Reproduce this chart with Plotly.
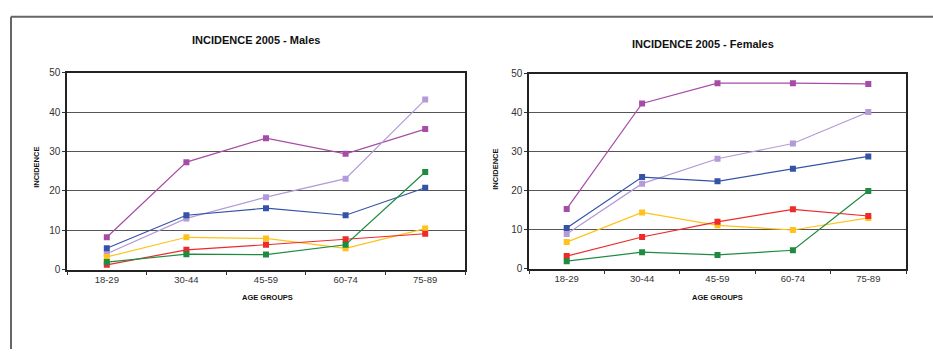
import plotly.graph_objects as go

W, H = 933, 355

age_groups = ["18-29", "30-44", "45-59", "60-74", "75-89"]

series_names = ["S1", "S2", "S3", "S4", "S5", "S6"]
series_colors = ["#A64CA6", "#B39AD8", "#3553A6", "#FFC21A", "#EE2A2A", "#1E8C40"]

males_s1 = [8.2, 27.3, 33.4, 29.4, 35.7]
males_s2 = [4.0, 13.0, 18.4, 23.1, 43.2]
males_s3 = [5.4, 13.8, 15.6, 13.8, 20.8]
males_s4 = [3.2, 8.2, 7.9, 5.4, 10.4]
males_s5 = [1.2, 5.0, 6.3, 7.7, 9.1]
males_s6 = [1.9, 3.9, 3.8, 6.3, 24.8]

females_s1 = [15.3, 42.4, 47.6, 47.6, 47.4]
females_s2 = [8.9, 21.8, 28.2, 32.1, 40.2]
females_s3 = [10.4, 23.5, 22.4, 25.6, 28.8]
females_s4 = [6.8, 14.4, 11.1, 9.9, 13.0]
females_s5 = [3.2, 8.1, 12.0, 15.2, 13.5]
females_s6 = [1.9, 4.2, 3.5, 4.7, 19.9]

y_ticks = [0, 10, 20, 30, 40, 50]

males = [males_s1, males_s2, males_s3, males_s4, males_s5, males_s6]
females = [females_s1, females_s2, females_s3, females_s4, females_s5, females_s6]

FONT = "Liberation Sans, Arial, sans-serif"

def px(x):
    return x / W

def py(y):
    return 1 - y / H

fig = go.Figure()

for name, color, vals in zip(series_names, series_colors, males):
    fig.add_trace(go.Scatter(x=age_groups, y=vals, mode="lines+markers", name=name,
                             line=dict(color=color, width=1.2),
                             marker=dict(symbol="square", size=6, color=color),
                             xaxis="x", yaxis="y", showlegend=False))
for name, color, vals in zip(series_names, series_colors, females):
    fig.add_trace(go.Scatter(x=age_groups, y=vals, mode="lines+markers", name=name,
                             line=dict(color=color, width=1.2),
                             marker=dict(symbol="square", size=6, color=color),
                             xaxis="x2", yaxis="y2", showlegend=False))

xcommon = dict(type="category", range=[-0.5, 4.5], tickson="boundaries",
               ticks="outside", ticklen=4, tickcolor="#333", tickwidth=1,
               showline=True, linecolor="#222", linewidth=1.5, mirror=True,
               showgrid=False, zeroline=False,
               tickfont=dict(family=FONT, size=9.5, color="#333"))
ycommon = dict(range=[0, 50], tickvals=y_ticks, ticks="outside", ticklen=3,
               tickcolor="#333", showline=True, linecolor="#222", linewidth=1.5,
               mirror=True, showgrid=True, gridcolor="#555", gridwidth=1.4,
               zeroline=False, tickfont=dict(family=FONT, size=10, color="#333"))

fig.update_layout(
    width=W, height=H,
    margin=dict(l=0, r=0, t=0, b=0),
    paper_bgcolor="white", plot_bgcolor="white",
    xaxis=dict(domain=[px(67), px(465)], anchor="y", **xcommon),
    yaxis=dict(domain=[py(273), py(70)], anchor="x", **ycommon),
    xaxis2=dict(domain=[px(529), px(906)], anchor="y2", **xcommon),
    yaxis2=dict(domain=[py(272), py(71)], anchor="x2", **ycommon),
)

ann = []
def text(x, y, s, size, angle=0, bold=True):
    ann.append(dict(x=px(x), y=py(y), xref="paper", yref="paper",
                    text=f"<b>{s}</b>" if bold else s, showarrow=False,
                    xanchor="center", yanchor="middle", textangle=angle,
                    font=dict(family=FONT, size=size, color="#111")))

text(256, 36, "INCIDENCE 2005 - Males", 11)
text(703, 40, "INCIDENCE 2005 - Females", 11)
text(37, 168, "INCIDENCE", 7.5, angle=-90)
text(496, 170, "INCIDENCE", 7.5, angle=-90)
text(267, 302, "AGE GROUPS", 7.5)
text(717, 302, "AGE GROUPS", 7.5)
fig.update_layout(annotations=ann)

fig.update_layout(shapes=[
    dict(type="line", xref="paper", yref="paper", x0=px(11), x1=1, y0=py(12), y1=py(12),
         line=dict(color="#666", width=2)),
    dict(type="line", xref="paper", yref="paper", x0=px(11), x1=px(11), y0=py(12), y1=0,
         line=dict(color="#666", width=2)),
])

post = (
    "var gd=document.getElementById('{plot_id}');"
    "gd.style.position='fixed';gd.style.left='0px';gd.style.top='0px';"
    "document.body.style.margin='0';document.body.style.padding='0';"
    "document.documentElement.style.overflow='hidden';document.body.style.overflow='hidden';"
)

fig.write_html("out.html", config={"displayModeBar": False}, post_script=post)
